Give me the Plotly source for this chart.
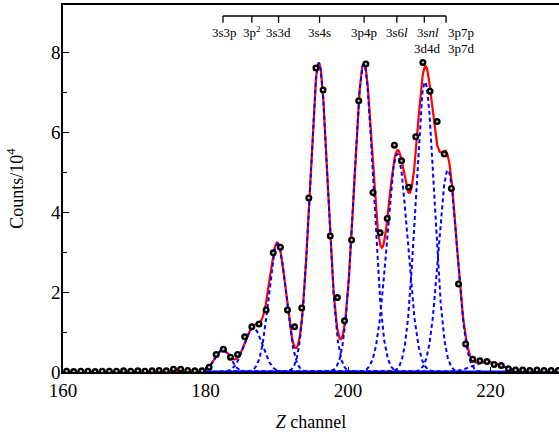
import numpy as np
import plotly.graph_objects as go

# measured data points (channel, counts / 1e4)
channel = [160.5 + i for i in range(70)]
counts = [0.02, 0.01, 0.02, 0.02, 0.01, 0.02, 0.02, 0.02, 0.03, 0.02,
          0.03, 0.02, 0.03, 0.04, 0.03,
          0.07, 0.07, 0.04, 0.03, 0.03, 0.12, 0.44, 0.57, 0.37, 0.44,
          0.88, 1.13, 1.20, 1.55, 2.98, 3.12, 1.55, 1.13, 1.60, 4.35,
          7.60, 7.05, 3.40, 1.86, 1.28, 3.30, 6.78, 7.70, 4.49, 3.48,
          3.84, 5.67, 5.28, 4.62, 5.88, 7.74, 7.02, 6.26, 5.45, 4.59,
          2.20, 0.70, 0.32, 0.28, 0.26, 0.19, 0.16, 0.08, 0.05, 0.05,
          0.04, 0.05, 0.04, 0.04, 0.04]

# fitted Gaussian components
peak_center = [182.4, 186.7, 190.1, 195.9, 202.2, 206.9, 210.8, 214.0, 219.5]
peak_amp = [0.55, 1.10, 3.20, 7.72, 7.70, 5.45, 7.25, 5.05, 0.25]
peak_sigma = [1.10, 1.30, 1.20, 1.25, 1.35, 1.45, 1.30, 1.30, 2.00]
fit_range = [180, 230]

# level labels
tick_pos = [182.45, 186.5, 190.25, 196.0, 202.25, 206.85, 210.7, 213.75]
labels_row1 = ["3s3p", "3p<sup>2</sup>", "3s3d", "3s4s", "3p4p", "3s6<i>l</i>",
               "3s<i>nl</i>", "3p7p"]
labels_row2 = ["", "", "", "", "", "", "3d4d", "3p7d"]
label_x = [182.6, 186.5, 190.25, 196.0, 202.3, 206.85, 211.2, 213.75]
label_anchor = ["center"] * 7 + ["left"]

xs = np.linspace(160, 230, 1401)
total = np.zeros_like(xs)
comps = []
for c, a, s in zip(peak_center, peak_amp, peak_sigma):
    g = a * np.exp(-(xs - c) ** 2 / (2 * s ** 2))
    total += g
    comps.append(g)

fig = go.Figure()
fig.add_trace(go.Scatter(x=xs, y=total, mode="lines",
                         line=dict(color="#ff0000", width=2.2), showlegend=False))
mask = (xs >= fit_range[0]) & (xs <= fit_range[1])
fig.add_trace(go.Scatter(x=xs[mask], y=np.zeros(mask.sum()), mode="lines",
                         line=dict(color="#0000ff", width=3), showlegend=False))
for g in comps:
    fig.add_trace(go.Scatter(x=xs[mask], y=g[mask], mode="lines",
                             line=dict(color="#0000ff", width=2, dash="4px,3px"),
                             showlegend=False))
fig.add_trace(go.Scatter(x=channel, y=counts, mode="markers",
                         marker=dict(size=7, color="#000000", line=dict(width=0)),
                         showlegend=False))
fig.add_trace(go.Scatter(x=channel, y=counts, mode="markers",
                         marker=dict(size=2.3, color="#cfcfcf", line=dict(width=0)),
                         showlegend=False, hoverinfo="skip"))

# bracket
y_line = 8.9
y_tick = 8.73
shapes = [dict(type="line", xref="x", yref="y", x0=tick_pos[0], x1=tick_pos[-1],
               y0=y_line, y1=y_line, line=dict(color="black", width=1.3))]
for p in tick_pos:
    shapes.append(dict(type="line", xref="x", yref="y", x0=p, x1=p,
                       y0=y_tick, y1=y_line, line=dict(color="black", width=1.3)))

annotations = []
for x, t1, t2, anc in zip(label_x, labels_row1, labels_row2, label_anchor):
    annotations.append(dict(x=x, y=8.49, xref="x", yref="y", text=t1, showarrow=False,
                            xanchor=anc, yanchor="middle",
                            font=dict(size=13, color="black", family="Liberation Serif")))
    if t2:
        annotations.append(dict(x=x, y=8.09, xref="x", yref="y", text=t2, showarrow=False,
                                xanchor=anc, yanchor="middle",
                                font=dict(size=13, color="black", family="Liberation Serif")))

fig.update_layout(
    width=559, height=432,
    margin=dict(l=63, r=0, t=5, b=60, autoexpand=False),
    paper_bgcolor="white", plot_bgcolor="white",
    font=dict(family="Liberation Serif", color="black", size=19),
    shapes=shapes, annotations=annotations,
    xaxis=dict(range=[160, 229.6], tickvals=[160, 180, 200, 220], automargin=False,
               ticks="inside", ticklen=5, tickwidth=1, tickcolor="black",
               showline=True, linecolor="black", linewidth=1.5, mirror=True,
               showgrid=False, zeroline=False,
               title=dict(text="<i>Z</i> channel", font=dict(size=18), standoff=16)),
    yaxis=dict(range=[0, 9.175], tickvals=[0, 2, 4, 6, 8], automargin=False,
               ticks="inside", ticklen=6, tickwidth=1, tickcolor="black",
               ticklabelstandoff=-3,
               minor=dict(tickvals=[1, 3, 5, 7], ticks="inside", ticklen=4,
                          tickcolor="black", tickwidth=1, showgrid=False),
               showline=True, linecolor="black", linewidth=1.5,
               showgrid=False, zeroline=False,
               title=dict(text="Counts/10<sup>4</sup>", font=dict(size=18), standoff=23)),
)

fig.write_html("out.html", config={"displayModeBar": False},
               post_script="document.body.style.margin='0';document.body.style.overflow='hidden';")
